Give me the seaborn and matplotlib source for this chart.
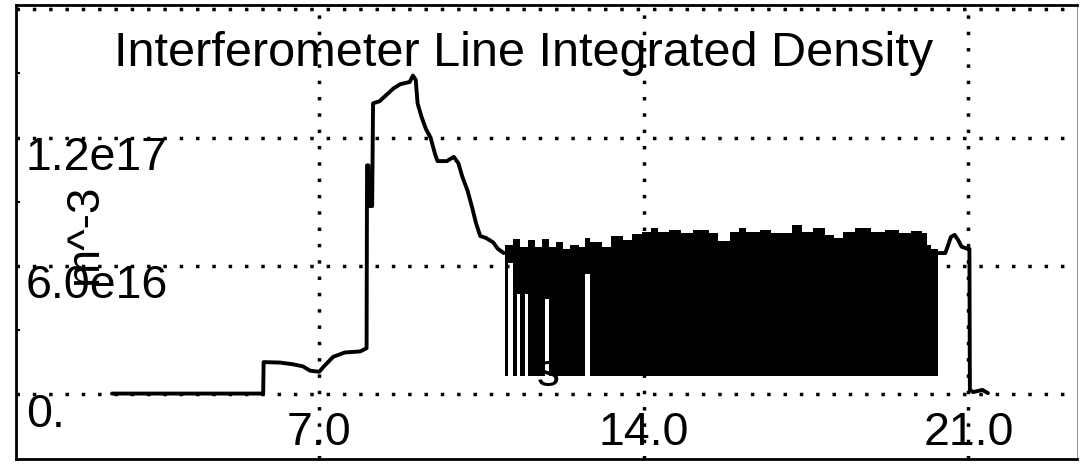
import matplotlib
matplotlib.use("Agg")
import matplotlib.pyplot as plt
import matplotlib.transforms as mtransforms
import seaborn as sns

# ---------------- data (time in s, line integrated density in m^-3) ----------------
t_rise = [2.53, 5.79, 5.80, 6.15, 6.43, 6.65, 6.80, 7.00, 7.10, 7.30, 7.55, 7.88,
          8.02, 8.03, 8.06, 8.07, 8.14, 8.16, 8.30, 8.45, 8.60, 8.75, 8.95, 9.02,
          9.08, 9.12, 9.20, 9.30, 9.40, 9.50, 9.55, 9.75, 9.90, 10.00, 10.08, 10.20,
          10.30, 10.38, 10.47, 10.60, 10.75, 10.85, 10.98]
n_rise = [0.03e16, 0.03e16, 1.50e16, 1.48e16, 1.40e16, 1.30e16, 1.10e16, 1.05e16,
          1.30e16, 1.75e16, 1.95e16, 2.00e16, 2.15e16, 1.07e17, 1.07e17, 8.8e16,
          8.8e16, 1.36e17, 1.37e17, 1.40e17, 1.43e17, 1.45e17, 1.46e17, 1.49e17,
          1.47e17, 1.36e17, 1.30e17, 1.24e17, 1.20e17, 1.12e17, 1.09e17, 1.09e17,
          1.11e17, 1.08e17, 1.02e17, 9.5e16, 8.7e16, 8.0e16, 7.4e16, 7.3e16, 7.1e16,
          6.8e16, 6.6e16]

# fast oscillating plateau: lower / upper envelope (step) between breakpoints
t_osc = [11.00, 11.07, 11.18, 11.265, 11.33, 11.44, 11.50, 11.65, 11.80, 11.87,
         11.955, 12.10, 12.25, 12.40, 12.60, 12.73, 12.84, 13.10, 13.30, 13.55,
         13.75, 13.95, 14.15, 14.30, 14.55, 14.80, 15.05, 15.40, 15.60, 15.85,
         16.05, 16.20, 16.50, 16.75, 17.20, 17.40, 17.65, 17.90, 18.10, 18.30,
         18.55, 18.90, 19.20, 19.50, 19.75, 20.00, 20.10, 20.20, 20.34]
n_osc_low = [8.5e15, 6.15e16, 8.5e15, 4.68e16, 8.5e15, 4.68e16, 8.5e15, 8.5e15,
             8.5e15, 4.45e16, 8.5e15, 8.5e15, 8.5e15, 8.5e15, 8.5e15, 5.6e16,
             8.5e15, 8.5e15, 8.5e15, 8.5e15, 8.5e15, 8.5e15, 8.5e15, 8.5e15,
             8.5e15, 8.5e15, 8.5e15, 8.5e15, 8.5e15, 8.5e15, 8.5e15, 8.5e15,
             8.5e15, 8.5e15, 8.5e15, 8.5e15, 8.5e15, 8.5e15, 8.5e15, 8.5e15,
             8.5e15, 8.5e15, 8.5e15, 8.5e15, 8.5e15, 8.5e15, 8.5e15, 8.5e15,
             8.0e15]
n_osc_high = [7.0e16, 7.0e16, 7.25e16, 7.25e16, 6.9e16, 6.9e16, 7.2e16, 6.9e16,
              7.25e16, 7.25e16, 6.9e16, 7.1e16, 6.8e16, 7.0e16, 6.9e16, 7.3e16,
              7.1e16, 6.9e16, 7.4e16, 7.2e16, 7.5e16, 7.6e16, 7.75e16, 7.6e16,
              7.7e16, 7.55e16, 7.7e16, 7.55e16, 7.15e16, 7.6e16, 7.75e16, 7.6e16,
              7.7e16, 7.55e16, 7.9e16, 7.6e16, 7.75e16, 7.45e16, 7.3e16, 7.6e16,
              7.75e16, 7.6e16, 7.7e16, 7.55e16, 7.65e16, 7.55e16, 7.0e16, 6.8e16,
              6.8e16]

# end of the shot
t_end = [20.34, 20.50, 20.55, 20.62, 20.70, 20.78, 20.85, 20.98, 21.02, 21.03,
         21.10, 21.30, 21.42]
n_end = [6.6e16, 6.6e16, 6.9e16, 7.35e16, 7.45e16, 7.2e16, 6.9e16, 6.8e16, 6.8e16,
         0.2e16, 0.1e16, 0.2e16, 0.05e16]

x_ticks = [7.0, 14.0, 21.0]
x_tick_labels = ["7.0", "14.0", "21.0"]
y_ticks = [0.0, 6.0e16, 1.2e17, 1.8e17]
y_tick_labels = ["0.", "6.0e16", "1.2e17"]
title = "Interferometer Line Integrated Density"
x_label = "s"
y_label = "m^-3"

# ---------------- figure ----------------
sns.set_style("white")
plt.rcParams["font.family"] = ["Liberation Sans", "DejaVu Sans"]
plt.rcParams["text.color"] = "black"

fig = plt.figure(figsize=(10.8, 4.68), dpi=100)
ax = fig.add_axes([16 / 1080, 9 / 468, 1061 / 1080, 454 / 468])

ax.set_xlim(0.46, 23.34)
ax.set_ylim(-3.03e16, 1.82e17)

# x label drawn underneath the data
ax.text(0.502, 0.161, x_label, transform=ax.transAxes, ha="center",
        va="baseline", fontsize=33, color="black", zorder=1)

ax.fill_between(t_osc, n_osc_low, n_osc_high, step="post", color="black",
                lw=0, zorder=3)
sns.lineplot(x=t_rise, y=n_rise, ax=ax, color="black", lw=2.8, sort=False,
             estimator=None, zorder=3)
sns.lineplot(x=t_end, y=n_end, ax=ax, color="black", lw=2.8, sort=False,
             estimator=None, zorder=3)

# grid
ax.set_xticks(x_ticks)
ax.set_yticks(y_ticks)
ax.set_yticks([3e16, 9e16, 1.5e17], minor=True)
ax.tick_params(which="major", length=0, labelbottom=False, labelleft=False)
ax.tick_params(which="minor", left=True, direction="in", length=3, width=1.5,
               color="black")
ax.set_axisbelow(True)
ax.grid(True, which="major", color="black", linestyle=(0, (1, 3.7)),
        linewidth=2.5)
ax.set_xlabel("")
ax.set_ylabel("")

for side in ["left", "top", "bottom"]:
    ax.spines[side].set_color("black")
    ax.spines[side].set_linewidth(2.0)
ax.spines["right"].set_color("#9a9a9a")
ax.spines["right"].set_linewidth(0.8)

# tick labels inside the frame
ytrans = mtransforms.blended_transform_factory(ax.transAxes, ax.transData)
for v, lab in zip(y_ticks, y_tick_labels):
    ax.text(0.0094, v - 1.52e16, lab, transform=ytrans, ha="left",
            va="baseline", fontsize=33.5, color="black", zorder=4)
xtrans = mtransforms.blended_transform_factory(ax.transData, ax.transAxes)
for v, lab in zip(x_ticks, x_tick_labels):
    ax.text(v, 0.0308, lab, transform=xtrans, ha="center", va="baseline",
            fontsize=33.5, color="black", zorder=4)

# y label (rotated)
ax.text(0.0763, 0.493, y_label, transform=ax.transAxes, rotation=90,
        rotation_mode="anchor", ha="center", va="baseline", fontsize=33,
        color="black", zorder=4)

# title inside the axes
ax.text(0.478, 0.8667, title, transform=ax.transAxes, ha="center",
        va="baseline", fontsize=35, color="black", zorder=4)

fig.savefig("out.png", dpi=100)
